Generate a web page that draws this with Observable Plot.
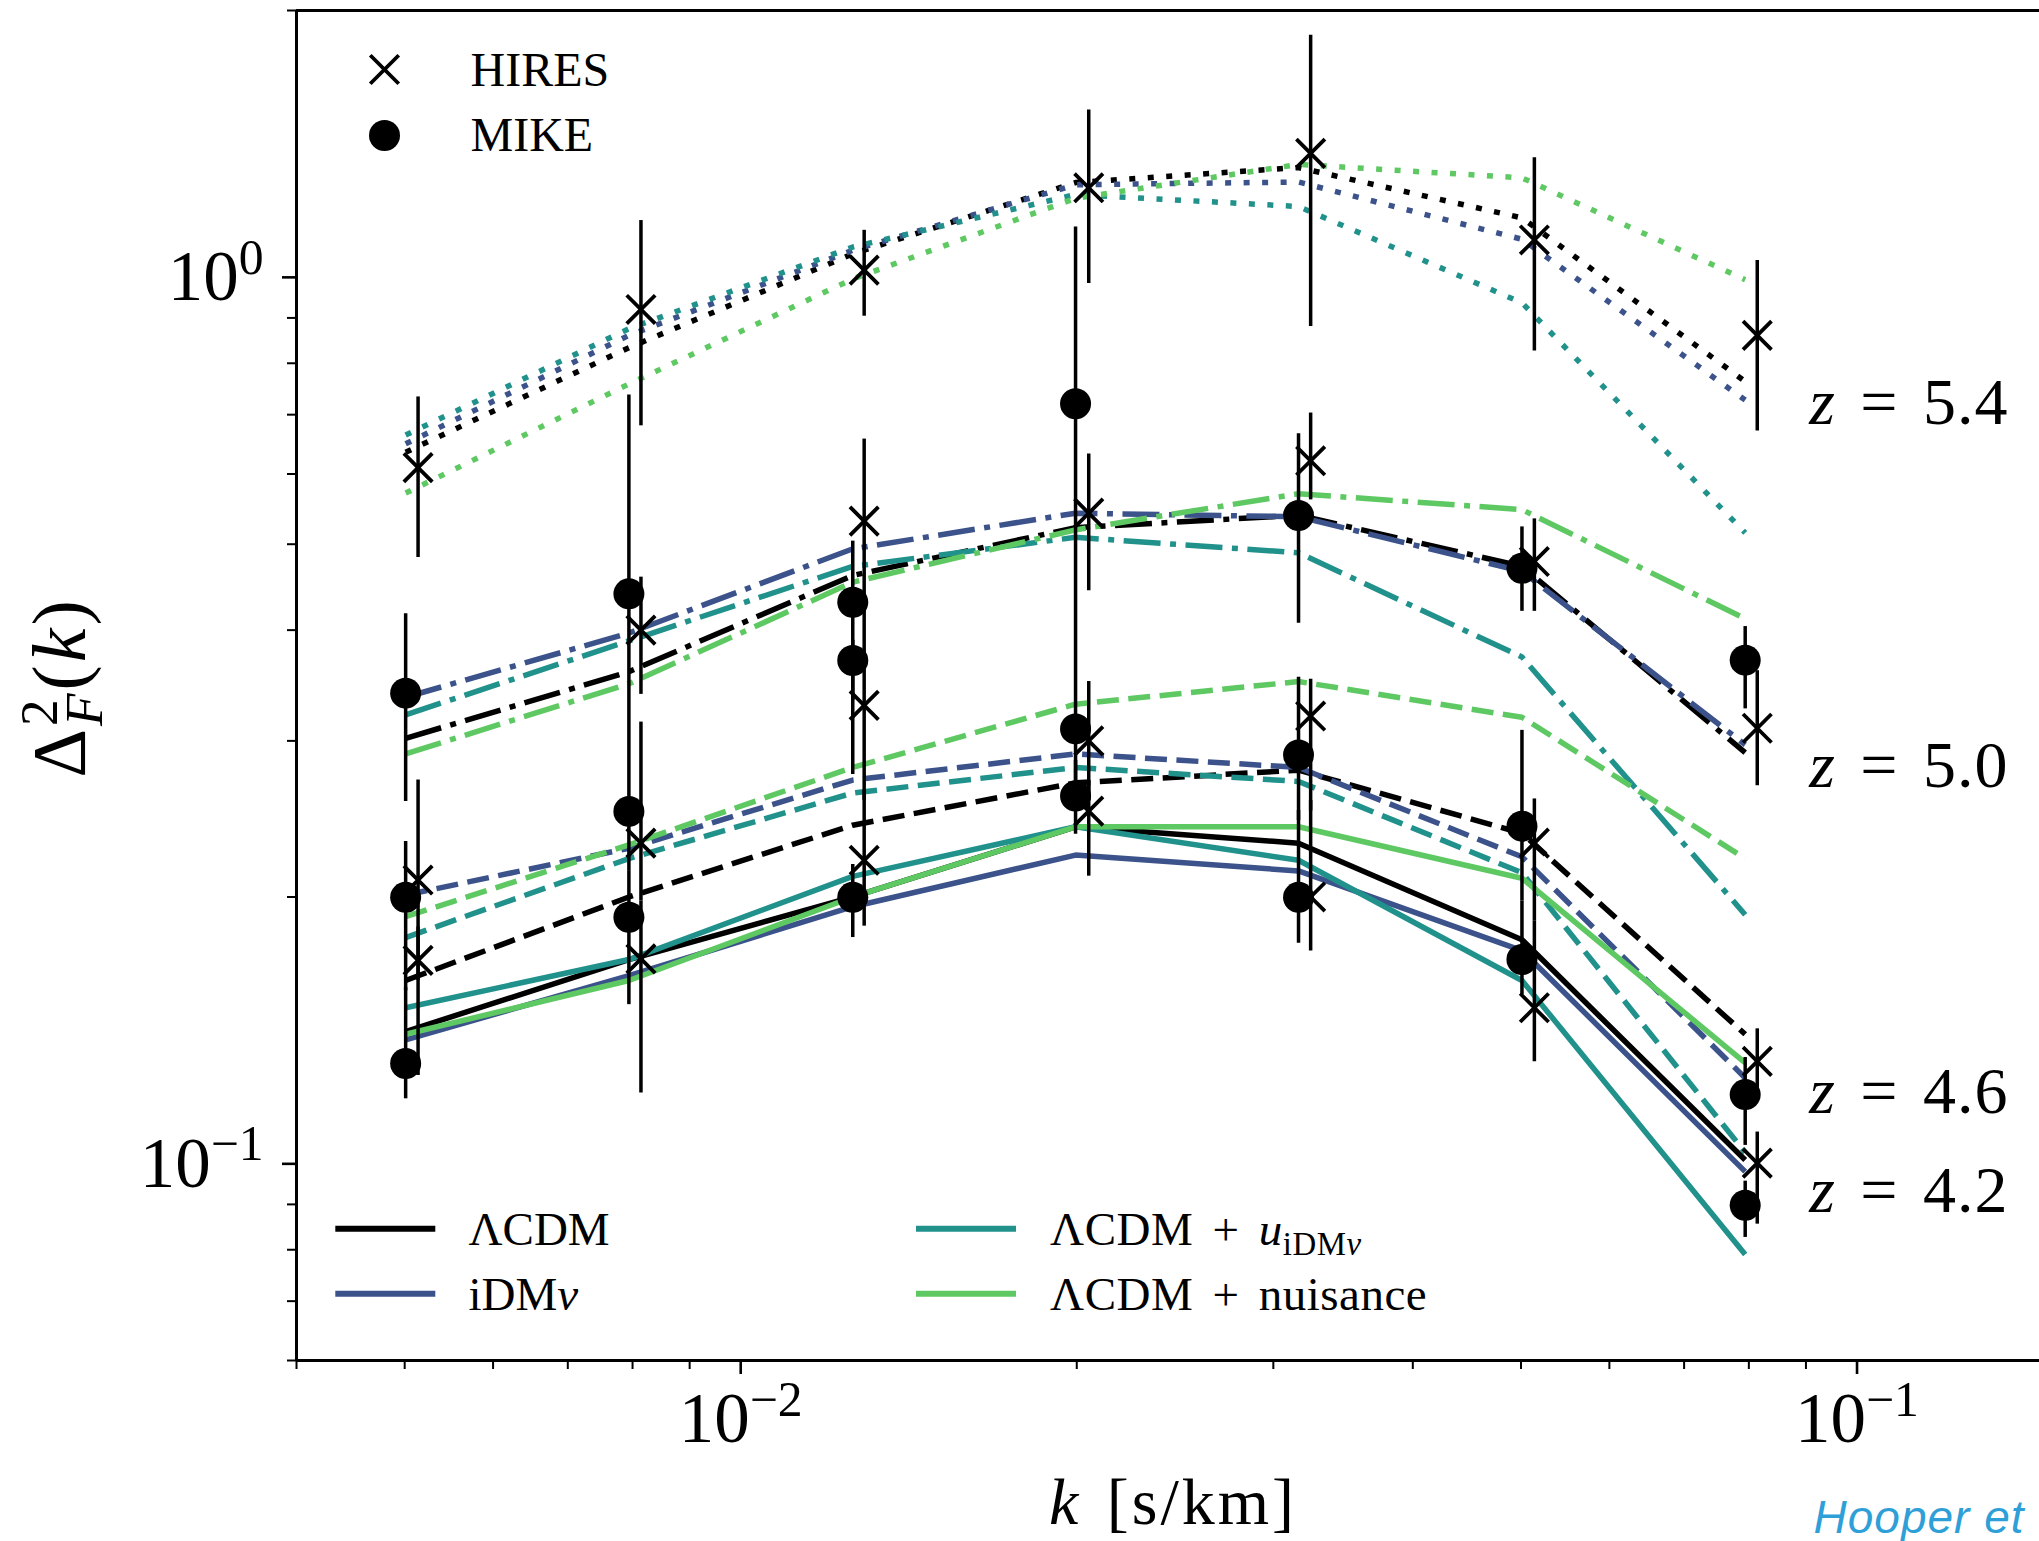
<!DOCTYPE html>
<html>
<head>
<meta charset="utf-8">
<script src="https://cdn.jsdelivr.net/npm/d3@7"></script>
<script src="https://cdn.jsdelivr.net/npm/@observablehq/plot@0.6"></script>
<style>
  html, body { margin: 0; padding: 0; background: #fff; overflow: hidden; }
</style>
</head>
<body>
<div id="chart"></div>
<script>
// ---------------- data ----------------
const kMIKE  = [0.00501, 0.00794, 0.0126, 0.01995, 0.0316, 0.0501, 0.0794];
const kHIRES = [0.00514, 0.00814, 0.0129, 0.0205, 0.0324, 0.0514, 0.0814];
const redshifts = ["5.4", "5.0", "4.6", "4.2"];
const modelNames = ["ΛCDM", "iDMν", "ΛCDM + u_iDMν", "ΛCDM + nuisance"];
const modelColors = ["#000000", "#3b528b", "#21918c", "#5ec962"];

// model predictions: rows are z = 5.4, 5.0, 4.6, 4.2 ; columns are the k bins
const lcdm = [
  [0.635, 0.833, 1.063, 1.279, 1.330, 1.167, 0.763],
  [0.302, 0.359, 0.461, 0.522, 0.539, 0.472, 0.291],
  [0.161, 0.200, 0.241, 0.269, 0.278, 0.236, 0.140],
  [0.141, 0.170, 0.200, 0.240, 0.230, 0.179, 0.101]
];
const idmnu = [
  [0.649, 0.860, 1.073, 1.272, 1.281, 1.104, 0.727],
  [0.336, 0.397, 0.494, 0.542, 0.537, 0.466, 0.297],
  [0.201, 0.227, 0.271, 0.290, 0.280, 0.222, 0.125],
  [0.138, 0.163, 0.195, 0.223, 0.214, 0.174, 0.098]
];
const lcdmU = [
  [0.664, 0.875, 1.082, 1.240, 1.202, 0.936, 0.515],
  [0.321, 0.389, 0.472, 0.509, 0.489, 0.373, 0.191],
  [0.180, 0.221, 0.262, 0.280, 0.270, 0.213, 0.103],
  [0.150, 0.170, 0.211, 0.240, 0.220, 0.161, 0.079]
];
const lcdmNuis = [
  [0.571, 0.758, 0.996, 1.228, 1.341, 1.295, 0.994],
  [0.290, 0.348, 0.453, 0.519, 0.570, 0.547, 0.412],
  [0.190, 0.229, 0.280, 0.330, 0.350, 0.319, 0.221],
  [0.140, 0.161, 0.200, 0.240, 0.240, 0.210, 0.130]
];

// HIRES data (z = 5.4, 5.0, 4.6, 4.2); null = no point
const hiresVal = [
  [0.610, 0.920, 1.019, 1.262, 1.380, 1.102, 0.860],
  [null,  0.400, 0.531, 0.542, 0.621, 0.478, 0.310],
  [0.209, 0.230, 0.329, 0.300, 0.320, 0.230, 0.1305],
  [0.1696, 0.1703, 0.220, 0.250, 0.200, 0.150, 0.1002]
];
const hiresLo = [
  [0.483, 0.680, 0.904, 0.984, 0.880, 0.826, 0.671],
  [null,  0.3385, 0.421, 0.443, 0.561, 0.420, 0.267],
  [0.161, 0.198, 0.257, 0.257, 0.250, 0.188, 0.1193],
  [0.1258, 0.1202, 0.1854, 0.2111, 0.1738, 0.1304, 0.0855]
];
const hiresHi = [
  [0.733, 1.159, 1.130, 1.544, 1.876, 1.364, 1.045],
  [null,  0.459, 0.657, 0.632, 0.703, 0.534, 0.360],
  [0.271, 0.315, 0.432, 0.350, 0.352, 0.258, 0.142],
  [0.185, 0.198, 0.2637, 0.2707, 0.257, 0.188, 0.1086]
];

// MIKE data (z = 5.0, 4.6, 4.2)
const mikeVal = [
  [0.3396, 0.4395, 0.430, 0.720, 0.5388, 0.4696, 0.370],
  [0.1998, 0.2498, 0.3696, 0.3095, 0.2892, 0.2404, 0.1197],
  [0.1298, 0.1897, 0.1998, 0.260, 0.1998, 0.170, 0.0898]
];
const mikeLo = [
  [0.2563, 0.2851, 0.333, 0.432, 0.4073, 0.420, 0.326],
  [0.1568, 0.2142, 0.2749, 0.2637, 0.2439, 0.198, 0.1049],
  [0.1184, 0.1512, 0.180, 0.2354, 0.1773, 0.1552, 0.0826]
];
const mikeHi = [
  [0.4173, 0.7367, 0.504, 1.140, 0.666, 0.523, 0.4037],
  [0.231, 0.2851, 0.3896, 0.432, 0.354, 0.3083, 0.1318],
  [0.158, 0.2142, 0.2176, 0.2851, 0.2503, 0.198, 0.0956]
];

// axes
const xDomain = [0.004, 0.1457];
const yDomain = [0.06, 2.0];
const xMajor = [0.01, 0.1];
const xTickLabels = ["10^{−2}", "10^{−1}"];
const xMinor = [0.004, 0.005, 0.006, 0.007, 0.008, 0.009, 0.02, 0.03, 0.04, 0.05, 0.06, 0.07, 0.08, 0.09];
const yMajor = [0.1, 1];
const yTickLabels = ["10^{−1}", "10^{0}"];
const yMinor = [0.06, 0.07, 0.08, 0.09, 0.2, 0.3, 0.4, 0.5, 0.6, 0.7, 0.8, 0.9, 2.0];

// redshift annotations (position in data coordinates)
const zLabelK = 0.0906;
const zLabelY = [0.721, 0.281, 0.1206, 0.0933];

// ---------------- build tables ----------------
const modelSets = [lcdm, idmnu, lcdmU, lcdmNuis];
const modelRows = modelSets.flatMap((set, m) =>
  set.flatMap((vals, j) => vals.map((v, i) => ({model: modelNames[m], z: redshifts[j], k: kMIKE[i], v}))));

const hiresPts = hiresVal.flatMap((vals, j) => vals.map((v, i) =>
  v == null ? null : {z: redshifts[j], k: kHIRES[i], v, lo: hiresLo[j][i], hi: hiresHi[j][i]})).filter(Boolean);
const mikePts = mikeVal.flatMap((vals, j) => vals.map((v, i) =>
  v == null ? null : {z: redshifts[j + 1], k: kMIKE[i], v, lo: mikeLo[j][i], hi: mikeHi[j][i]})).filter(Boolean);

// ---------------- styling ----------------
const W = 2039, H = 1541;
const mL = 296, mR = 0, mT = 10, mB = 181;
const frameW = W - mL - mR, frameH = H - mT - mB;
const LW = 5.5;
const dashFor = {"5.4": "6 12.5", "5.0": "37 9.5 6 9.5", "4.6": "22 9.5", "4.2": null};
const hline = {draw(ctx) { ctx.moveTo(-50, 0); ctx.lineTo(50, 0); }};

const lineMarks = redshifts.map(z => Plot.line(modelRows.filter(d => d.z === z), {
  x: "k", y: "v", z: "model", stroke: "model", strokeWidth: LW,
  strokeDasharray: dashFor[z] || undefined, strokeLinecap: "butt", strokeLinejoin: "round"
}));

const legendPos = [[88.8, 1218.3, 172], [88.8, 1283.3, 172], [669.5, 1218.3, 753.6], [669.5, 1283.3, 753.6]];
const legendTexts = ["ΛCDM", "iDM*ν*", "ΛCDM + *u*_{iDM*ν*}", "ΛCDM + nuisance"];
const legendMarks = modelNames.flatMap((m, i) => [
  Plot.dot([m], {frameAnchor: "top-left", dx: legendPos[i][0], dy: legendPos[i][1], r: 5,
    symbol: hline, fill: "none", stroke: modelColors[i], strokeWidth: 6}),
  Plot.text([legendTexts[i]], {frameAnchor: "top-left", dx: legendPos[i][2], dy: legendPos[i][1] + 1,
    textAnchor: "start", lineAnchor: "middle", fontSize: 47})
]);

const chart = Plot.plot({
  width: W, height: H,
  marginLeft: mL, marginRight: mR, marginTop: mT, marginBottom: mB,
  x: {type: "log", domain: xDomain, axis: null},
  y: {type: "log", domain: yDomain, axis: null},
  color: {domain: modelNames, range: modelColors},
  style: {fontFamily: "'Liberation Serif', 'DejaVu Serif', serif", background: "white", overflow: "visible", color: "black"},
  marks: [
    ...lineMarks,
    Plot.ruleX(mikePts, {x: "k", y1: "lo", y2: "hi", stroke: "black", strokeWidth: 3.5}),
    Plot.ruleX(hiresPts, {x: "k", y1: "lo", y2: "hi", stroke: "black", strokeWidth: 3.5}),
    Plot.dot(mikePts, {x: "k", y: "v", r: 15.5, fill: "black", stroke: "none"}),
    Plot.dot(hiresPts, {x: "k", y: "v", r: 13, symbol: "times", stroke: "black", strokeWidth: 3.8}),
    // spines
    Plot.ruleX([xDomain[0]], {stroke: "black", strokeWidth: 3}),
    Plot.ruleY([yDomain[0]], {stroke: "black", strokeWidth: 3}),
    Plot.ruleY([yDomain[1]], {stroke: "black", strokeWidth: 3}),
    // ticks
    Plot.ruleX(xMajor, {x: d => d, insetTop: frameH, insetBottom: -14, stroke: "black", strokeWidth: 2.6}),
    Plot.ruleX(xMinor, {x: d => d, insetTop: frameH, insetBottom: -9, stroke: "black", strokeWidth: 2}),
    Plot.ruleY(yMajor, {y: d => d, insetLeft: -14, insetRight: frameW, stroke: "black", strokeWidth: 2.6}),
    Plot.ruleY(yMinor, {y: d => d, insetLeft: -9, insetRight: frameW, stroke: "black", strokeWidth: 2}),
    // tick labels
    Plot.text(xMajor, {x: d => d, text: (d, i) => xTickLabels[i], frameAnchor: "bottom", lineAnchor: "middle", textAnchor: "middle", dy: 59, fontSize: 71}),
    Plot.text(yMajor, {y: d => d, text: (d, i) => yTickLabels[i], frameAnchor: "left", lineAnchor: "middle", textAnchor: "end", dx: -33, fontSize: 71}),
    // axis labels
    Plot.text(["*k* [s/km]"], {frameAnchor: "bottom", lineAnchor: "middle", textAnchor: "middle", dx: 5, dy: 142, fontSize: 66}),
    Plot.text(["Δ^{2}_{*F*}(*k*)"], {frameAnchor: "left", lineAnchor: "middle", textAnchor: "middle", rotate: -90, dx: -236, dy: 2, fontSize: 76}),
    // redshift annotations
    Plot.text(redshifts, {x: () => zLabelK, y: (d, i) => zLabelY[i], text: d => `*z* = ${d}`, textAnchor: "start", lineAnchor: "middle", fontSize: 66}),
    // marker legend
    Plot.dot(["HIRES"], {frameAnchor: "top-left", dx: 88, dy: 59, r: 13, symbol: "times", stroke: "black", strokeWidth: 3.8}),
    Plot.dot(["MIKE"], {frameAnchor: "top-left", dx: 88, dy: 125, r: 15.5, fill: "black", stroke: "none"}),
    Plot.text(["HIRES"], {frameAnchor: "top-left", dx: 174, dy: 60, textAnchor: "start", lineAnchor: "middle", fontSize: 48}),
    Plot.text(["MIKE"], {frameAnchor: "top-left", dx: 174, dy: 125, textAnchor: "start", lineAnchor: "middle", fontSize: 48}),
    ...legendMarks,
    // credit
    Plot.text(["Hooper et"], {frameAnchor: "bottom-left", dx: 1517, dy: 158, textAnchor: "start", lineAnchor: "middle", fontSize: 46,
      fontFamily: "'Liberation Sans', Roboto, sans-serif", fontStyle: "italic", fill: "#2f9fd8"})
  ]
});

document.getElementById("chart").appendChild(chart);

// extra spacing to mimic the wider TeX fonts
const spacing = {
  "*k* [s/km]": ["3px", "6px"],
  "Δ^{2}_{*F*}(*k*)": ["3px", "0px"],
  "ΛCDM + *u*_{iDM*ν*}": ["0.5px", "7px"],
  "ΛCDM + nuisance": ["0.5px", "7px"],
  "*z* = 5.4": ["1px", "7px"], "*z* = 5.0": ["1px", "7px"],
  "*z* = 4.6": ["1px", "7px"], "*z* = 4.2": ["1px", "7px"],
  "Hooper et": ["1px", "0px"]
};
for (const t of chart.querySelectorAll("text")) {
  const sp = spacing[t.textContent];
  if (sp) { t.style.letterSpacing = sp[0]; t.style.wordSpacing = sp[1]; }
}

// ---------------- rich text (italic / super / subscript) ----------------
function richify(svg) {
  const NS = "http://www.w3.org/2000/svg";
  for (const t of svg.querySelectorAll("text")) {
    const s = t.textContent;
    if (!/[\^_]\{|\*/.test(s)) continue;
    const F = parseFloat(getComputedStyle(t).fontSize);
    while (t.firstChild) t.removeChild(t.firstChild);
    const re = /\^\{([^}]*)\}|_\{([^}]*)\}|\*([^*]+)\*|([^\^_*]+)/g;
    let m, cur = 0, prevSup = null;
    while ((m = re.exec(s))) {
      let off = 0, small = false, body, plainItalic = false;
      if (m[1] != null) { body = m[1]; off = -0.37 * F; small = true; }
      else if (m[2] != null) { body = m[2]; off = 0.22 * F; small = true; }
      else if (m[3] != null) { body = m[3]; plainItalic = true; }
      else body = m[4];
      const first = document.createElementNS(NS, "tspan");
      if (off !== cur) first.setAttribute("dy", off - cur);
      if (m[2] != null && prevSup) first.setAttribute("dx", -prevSup.getComputedTextLength());
      const parts = plainItalic ? [[body, true]] : body.split(/(\*[^*]+\*)/).filter(p => p).map(p => /^\*.*\*$/.test(p) ? [p.slice(1, -1), true] : [p, false]);
      let firstUsed = false; const made = [];
      for (const [txt, it] of parts) {
        const ts = firstUsed ? document.createElementNS(NS, "tspan") : first;
        firstUsed = true;
        ts.textContent = txt;
        if (small) ts.setAttribute("font-size", 0.7 * F);
        if (it) ts.setAttribute("font-style", "italic");
        t.appendChild(ts);
        made.push(ts);
      }
      cur = off;
      prevSup = m[1] != null ? {getComputedTextLength: () => made.reduce((a, e) => a + e.getComputedTextLength(), 0)} : null;
    }
  }
}
richify(chart);
</script>
</body>
</html>
